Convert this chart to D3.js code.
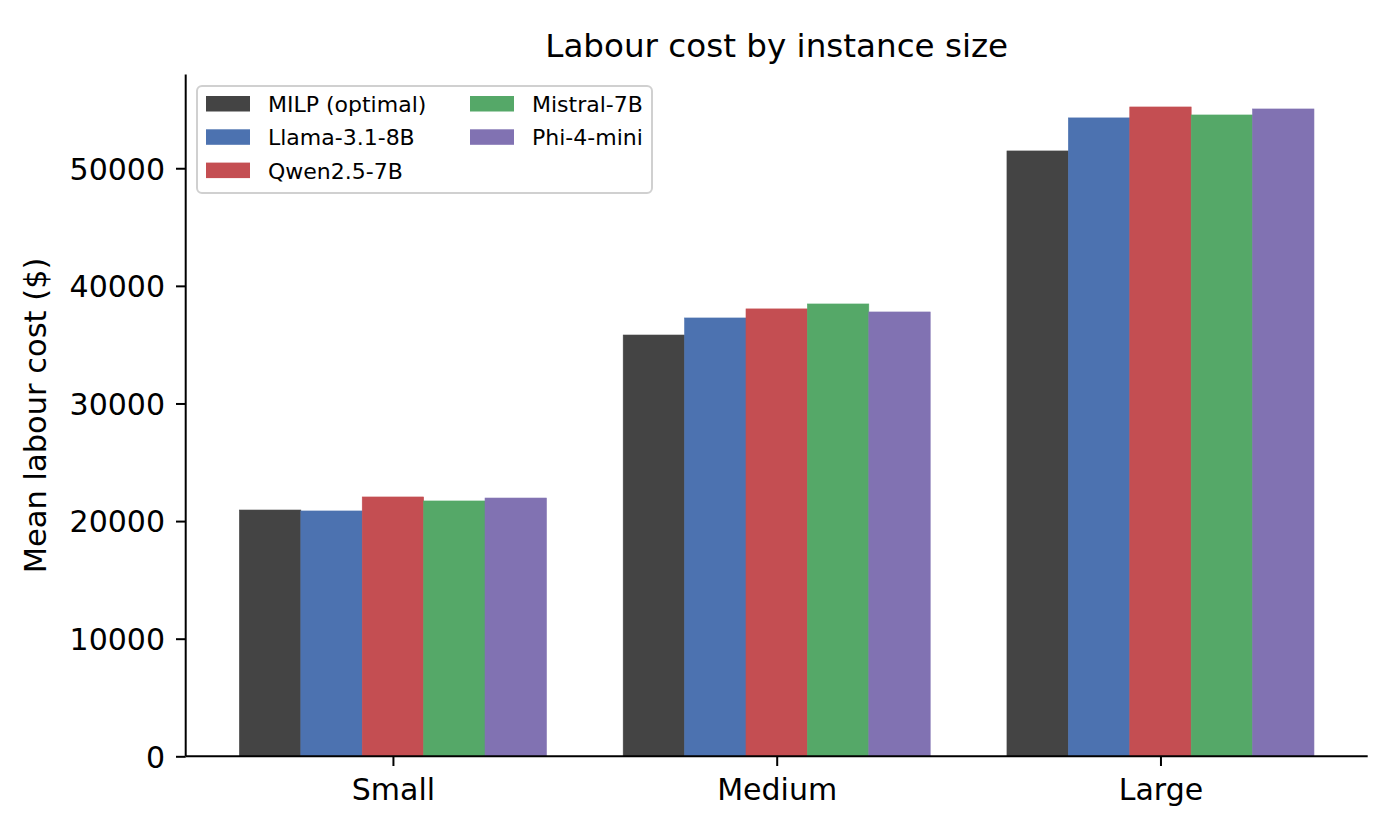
<!DOCTYPE html>
<html>
<head>
<meta charset="utf-8">
<script src="https://cdn.jsdelivr.net/npm/d3@7"></script>
<style>
  body { margin: 0; background: #fff; }
  svg text { font-family: "DejaVu Sans", sans-serif; fill: #000; }
</style>
</head>
<body>
<div id="chart"></div>
<script>
// data
var sizes = ["Small", "Medium", "Large"];
var models = ["MILP (optimal)", "Llama-3.1-8B", "Qwen2.5-7B", "Mistral-7B", "Phi-4-mini"];
var milp    = [20940, 35820, 51470];
var llama   = [20860, 37270, 54280];
var qwen    = [22050, 38040, 55210];
var mistral = [21710, 38460, 54530];
var phi     = [21960, 37780, 55040];
var yTicks = [0, 10000, 20000, 30000, 40000, 50000];

var series = [milp, llama, qwen, mistral, phi];
var colors = ["#444444", "#4c72b0", "#c44e52", "#55a868", "#8172b2"];

var outerWidth = 1400;
var outerHeight = 840;
var margin = { left: 185.7, top: 74.5, right: 32.3, bottom: 83.7 };
var innerWidth = outerWidth - margin.left - margin.right;
var innerHeight = outerHeight - margin.top - margin.bottom;

var svg = d3.select("#chart").append("svg")
    .attr("width", outerWidth)
    .attr("height", outerHeight);

var g = svg.append("g")
    .attr("transform", "translate(" + margin.left + "," + margin.top + ")");

// matplotlib style: categories at 0,1,2, bars fill 0.8, 5% margins
var xMin = -0.54, xMax = 2.54;
var xScale = d3.scaleLinear().domain([xMin, xMax]).range([0, innerWidth]);
var maxVal = d3.max(series, function (s) { return d3.max(s); });
var yScale = d3.scaleLinear().domain([0, maxVal * 1.05]).range([innerHeight, 0]);

var barW = 0.8 / models.length;

// bars
series.forEach(function (vals, m) {
    g.selectAll(".bar" + m)
        .data(vals)
        .enter()
        .append("rect")
        .attr("x", function (d, i) { return xScale(i - 0.4 + m * barW); })
        .attr("width", xScale(barW) - xScale(0))
        .attr("y", function (d) { return yScale(d); })
        .attr("height", function (d) { return innerHeight - yScale(d); })
        .attr("fill", colors[m])
        .attr("stroke", colors[m])
        .attr("stroke-width", 0.6);
});

// axes
var xAxis = d3.axisBottom(xScale)
    .tickValues([0, 1, 2])
    .tickFormat(function (d) { return sizes[d]; })
    .tickSize(9.7)
    .tickPadding(8);
var gx = g.append("g")
    .attr("transform", "translate(0," + innerHeight + ")")
    .call(xAxis);
gx.select(".domain").attr("d", "M0,0H" + innerWidth).attr("stroke-width", 2);
gx.selectAll(".tick line").attr("stroke-width", 2);
gx.selectAll(".tick text")
    .attr("font-size", "30px")
    .attr("font-family", "DejaVu Sans")
    .attr("fill", "#000")
    .attr("dy", "0.86em");

var yAxis = d3.axisLeft(yScale)
    .tickValues(yTicks)
    .tickFormat(d3.format("d"))
    .tickSize(9.7)
    .tickPadding(11);
var gy = g.append("g").call(yAxis);
gy.select(".domain").attr("d", "M0," + innerHeight + "V0").attr("stroke-width", 2);
gy.selectAll(".tick line").attr("stroke-width", 2);
gy.selectAll(".tick text")
    .attr("font-size", "30px")
    .attr("font-family", "DejaVu Sans")
    .attr("fill", "#000")
    .attr("dy", "0.36em");

// title and axis label
svg.append("text")
    .attr("x", margin.left + innerWidth / 2)
    .attr("y", 57)
    .attr("text-anchor", "middle")
    .attr("font-size", "32.6px")
    .text("Labour cost by instance size");

svg.append("text")
    .attr("transform", "translate(46," + (margin.top + innerHeight / 2) + ") rotate(-90)")
    .attr("text-anchor", "middle")
    .attr("font-size", "30.5px")
    .text("Mean labour cost ($)");

// legend, two columns
var legend = svg.append("g").attr("transform", "translate(197,86)");
legend.append("rect")
    .attr("width", 455)
    .attr("height", 107)
    .attr("rx", 5)
    .attr("fill", "#fff")
    .attr("fill-opacity", 0.8)
    .attr("stroke", "#d0d0d0")
    .attr("stroke-width", 2);

var items = legend.selectAll(".item")
    .data(models)
    .enter()
    .append("g")
    .attr("transform", function (d, i) {
        var col = i < 3 ? 0 : 1;
        var row = i < 3 ? i : i - 3;
        return "translate(" + (9 + col * 264) + "," + (10 + row * 33.3) + ")";
    });
items.append("rect")
    .attr("width", 44)
    .attr("height", 15.5)
    .attr("fill", function (d, i) { return colors[i]; });
items.append("text")
    .attr("x", 62)
    .attr("y", 16)
    .attr("font-size", "22px")
    .text(function (d) { return d; });
</script>
</body>
</html>
